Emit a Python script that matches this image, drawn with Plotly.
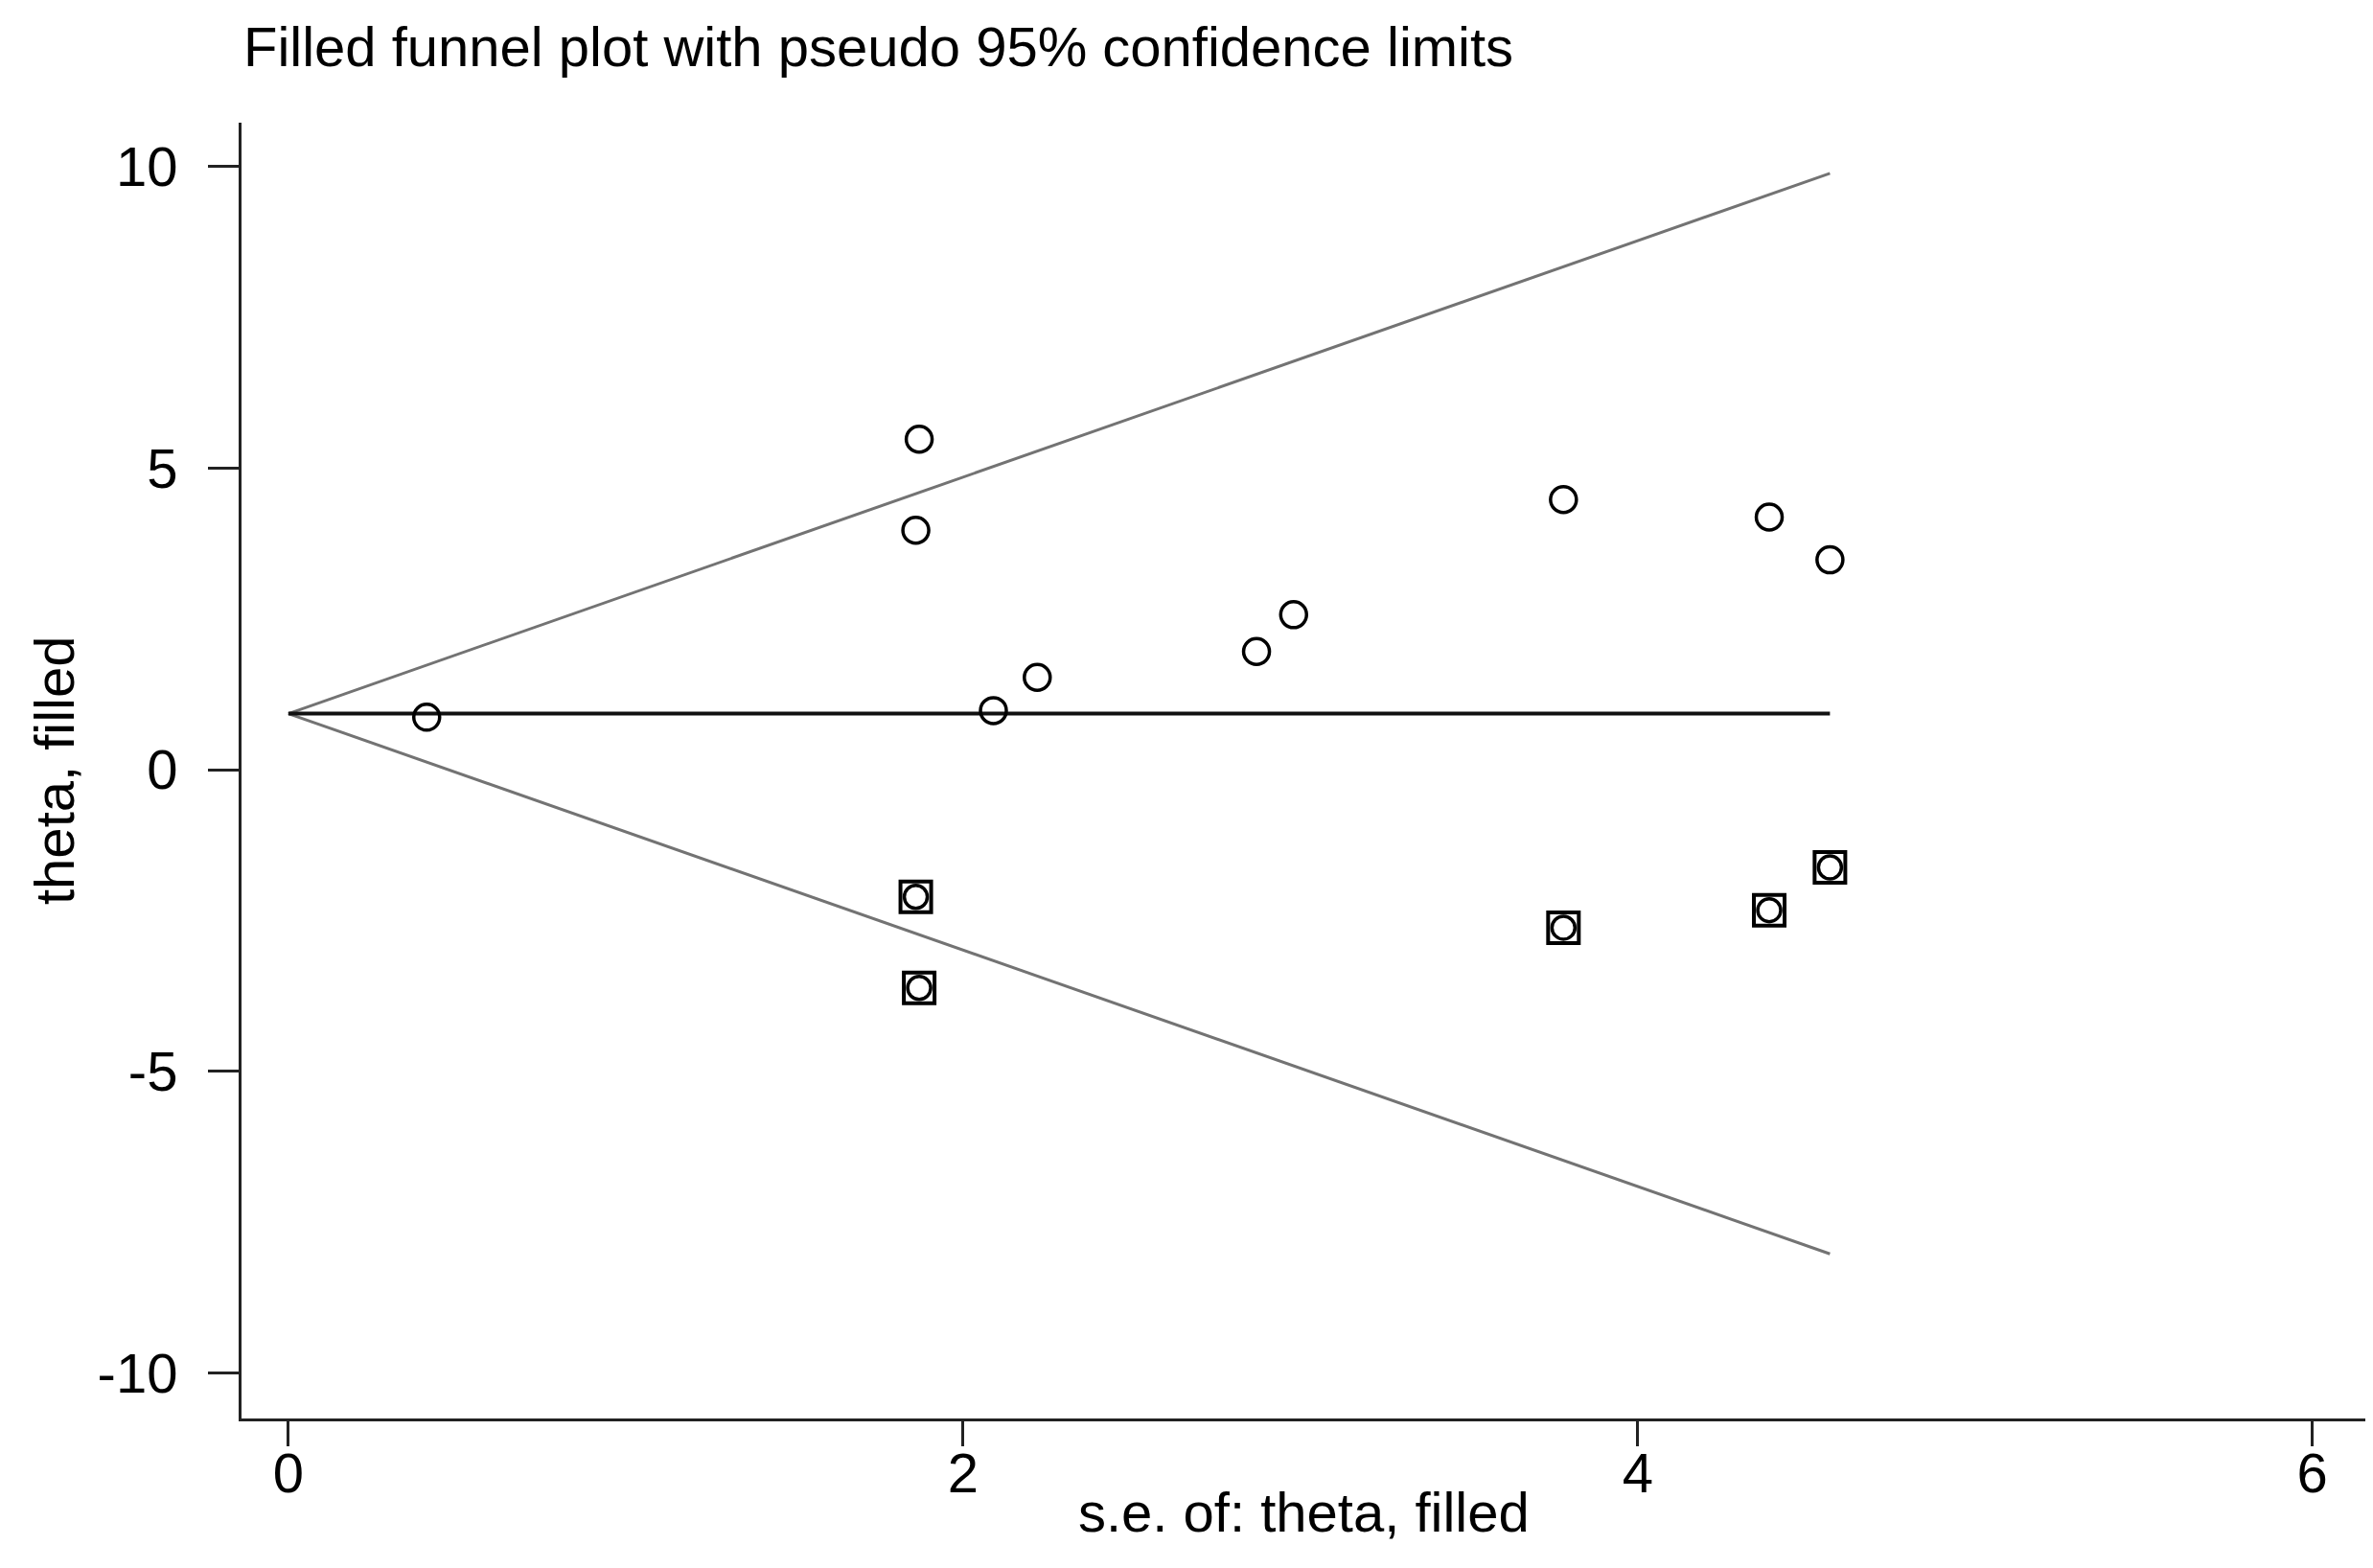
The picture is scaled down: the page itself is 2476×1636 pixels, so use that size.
import plotly.graph_objects as go

# Observed studies (hollow circles)
se_obs = [0.41, 1.86, 1.87, 2.09, 2.22, 2.87, 2.98, 3.78, 4.39, 4.57]
theta_obs = [0.87, 3.97, 5.48, 0.98, 1.53, 1.96, 2.57, 4.48, 4.19, 3.48]

# Filled (imputed) studies (squares with circle)
se_fill = [1.86, 1.87, 3.78, 4.39, 4.57]
theta_fill = [-2.11, -3.62, -2.62, -2.33, -1.62]

# Pooled estimate line and pseudo 95% confidence limits
pooled_se = [0, 4.57]
pooled_theta = [0.93, 0.93]
limit_se = [0, 4.57]
upper_limit = [0.93, 9.89]
lower_limit = [0.93, -8.03]

x_ticks = [0, 2, 4, 6]
y_ticks = [-10, -5, 0, 5, 10]

FONT = "Liberation Sans, Arial, Helvetica, sans-serif"
FS = 58

fig = go.Figure()
fig.add_trace(go.Scatter(x=limit_se, y=upper_limit, mode="lines",
                         line=dict(color="#737373", width=3), showlegend=False))
fig.add_trace(go.Scatter(x=limit_se, y=lower_limit, mode="lines",
                         line=dict(color="#737373", width=3), showlegend=False))
fig.add_trace(go.Scatter(x=pooled_se, y=pooled_theta, mode="lines",
                         line=dict(color="#111111", width=4), showlegend=False))
fig.add_trace(go.Scatter(x=se_obs, y=theta_obs, mode="markers",
                         marker=dict(symbol="circle-open", size=27, color="black",
                                     line=dict(width=3.5, color="black")),
                         showlegend=False))
fig.add_trace(go.Scatter(x=se_fill, y=theta_fill, mode="markers",
                         marker=dict(symbol="square-open", size=32, color="black",
                                     line=dict(width=4, color="black")),
                         showlegend=False))
fig.add_trace(go.Scatter(x=se_fill, y=theta_fill, mode="markers",
                         marker=dict(symbol="circle-open", size=24, color="black",
                                     line=dict(width=3.5, color="black")),
                         showlegend=False))

L, R, T, B = 244, 15, 120, 164
W, H = 2476, 1636

fig.update_layout(
    width=W, height=H,
    margin=dict(l=L, r=R, t=T, b=B, autoexpand=False),
    paper_bgcolor="white", plot_bgcolor="white",
    font=dict(family=FONT, size=FS, color="black"),
    xaxis=dict(range=[-0.139, 6.16], tickvals=x_ticks, ticktext=[str(v) for v in x_ticks],
               showgrid=False, zeroline=False, showline=True, linecolor="#222222",
               linewidth=3, ticks="outside", ticklen=26, tickwidth=3, tickcolor="#222222",
               tickfont=dict(family=FONT, size=FS, color="black"), automargin=False,
               ticklabelstandoff=-22),
    yaxis=dict(range=[-10.76, 10.73], tickvals=y_ticks, ticktext=[str(v) for v in y_ticks],
               showgrid=False, zeroline=False, showline=True, linecolor="#222222",
               linewidth=3, ticks="outside", ticklen=32, tickwidth=3, tickcolor="#222222",
               tickfont=dict(family=FONT, size=FS, color="black"), automargin=False,
               ticklabelstandoff=20),
    annotations=[
        dict(text="Filled funnel plot with pseudo 95% confidence limits",
             xref="paper", yref="paper", x=(244 - L) / (W - L - R), y=(H - B - 41) / (H - T - B),
             xanchor="left", yanchor="middle", showarrow=False,
             font=dict(family=FONT, size=FS, color="black")),
        dict(text="s.e. of: theta, filled",
             xref="paper", yref="paper", x=0.5, y=(H - B - 1569) / (H - T - B),
             xanchor="center", yanchor="middle", showarrow=False,
             font=dict(family=FONT, size=FS, color="black")),
        dict(text="theta, filled", textangle=-90,
             xref="paper", yref="paper", x=(48 - L) / (W - L - R), y=0.5,
             xanchor="center", yanchor="middle", showarrow=False,
             font=dict(family=FONT, size=FS, color="black")),
    ],
)

fig.write_html("out.html")
